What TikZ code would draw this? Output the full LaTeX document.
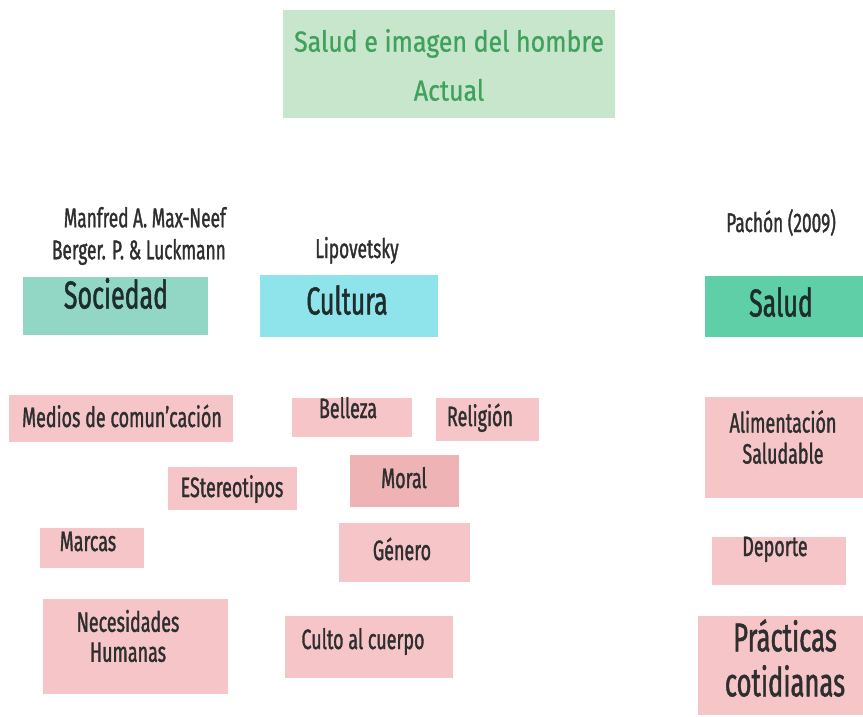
\documentclass[tikz,border=0pt]{standalone}
\usepackage{fontspec}
\setmainfont{Fira Sans}[FakeStretch=0.64, FakeBold=1.2]
\newfontfamily\titulofont{Fira Sans}[FakeStretch=0.86, FakeBold=0.8]

\definecolor{verdetit}{HTML}{C8E6CB}
\definecolor{verdetxt}{HTML}{3FA25C}
\definecolor{sociedadc}{HTML}{92D6C6}
\definecolor{culturac}{HTML}{8FE3EA}
\definecolor{saludc}{HTML}{5ECFA6}
\definecolor{rosa}{HTML}{F5C5C7}
\definecolor{rosaosc}{HTML}{EDB3B5}
\definecolor{gristxt}{HTML}{2E2E2E}
\definecolor{oscuro}{HTML}{1E2D2B}

\tikzset{
  etq/.style={anchor=base, inner sep=0pt, text=gristxt, font=\fontsize{28}{31}\selectfont},
  etqdos/.style={inner sep=0pt, text=gristxt, align=center},
  autor/.style={anchor=base, inner sep=0pt, text=gristxt, font=\fontsize{27}{32}\selectfont},
  grande/.style={anchor=base, inner sep=0pt, text=oscuro, font=\fontsize{39}{45}\selectfont}
}

\begin{document}
\begin{tikzpicture}[x=1pt,y=-1pt]
	\useasboundingbox (0,0) rectangle (863,717);

	% Titulo
	\fill [verdetit] (283,10) rectangle (615,118);
	\node [inner sep=0pt, align=center, text=verdetxt, font=\titulofont\fontsize{29}{49}\selectfont] (titulo) at (449,65) {Salud e imagen del hombre\\Actual};

	% Autores
	\node [autor, anchor=east, align=right] (maxneef) at (226,236) {Manfred A. Max-Neef\\Berger. P. \& Luckmann};
	\node [autor] (lipovetsky) at (357,258) {Lipovetsky};
	\node [autor] (pachon) at (781,232) {Pachón (2009)};

	% Categorias
	\fill [sociedadc] (23,277) rectangle (208,335);
	\node [grande] (sociedad) at (116,308.5) {Sociedad};
	\fill [culturac] (260,275) rectangle (438,337);
	\node [grande] (cultura) at (347,314.5) {Cultura};
	\fill [saludc] (705,276) rectangle (863,337);
	\node [grande] (salud) at (781,316.5) {Salud};

	% Sociedad
	\fill [rosa] (9,395) rectangle (233,442);
	\node [etq] (medios) at (122,427) {Medios de comun'cación};
	\fill [rosa] (168,467) rectangle (297,510);
	\node [etq] (estereotipos) at (232,497) {EStereotipos};
	\fill [rosa] (40,528) rectangle (144,568);
	\node [etq] (marcas) at (88,551) {Marcas};
	\fill [rosa] (43,599) rectangle (228,694);
	\node [etqdos, font=\fontsize{28}{30}\selectfont] (necesidades) at (128,636) {Necesidades\\Humanas};

	% Cultura
	\fill [rosa] (292,398) rectangle (412,437);
	\node [etq] (belleza) at (348,418) {Belleza};
	\fill [rosa] (436,398) rectangle (539,441);
	\node [etq] (religion) at (480,426) {Religión};
	\fill [rosaosc] (350,455) rectangle (459,507);
	\node [etq] (moral) at (404,488) {Moral};
	\fill [rosa] (339,523) rectangle (470,582);
	\node [etq] (genero) at (402,560) {Género};
	\fill [rosa] (285,616) rectangle (453,678);
	\node [etq] (culto) at (363,649) {Culto al cuerpo};

	% Salud
	\fill [rosa] (705,397) rectangle (863,498);
	\node [etqdos, font=\fontsize{28}{31}\selectfont] (alimentacion) at (783,437) {Alimentación\\Saludable};
	\fill [rosa] (712,537) rectangle (846,585);
	\node [etq] (deporte) at (775,556) {Deporte};
	\fill [rosa] (698,616) rectangle (863,715);
	\node [etqdos, font=\fontsize{40}{45}\selectfont] (practicas) at (785,658) {Prácticas\\cotidianas};
\end{tikzpicture}
\end{document}
